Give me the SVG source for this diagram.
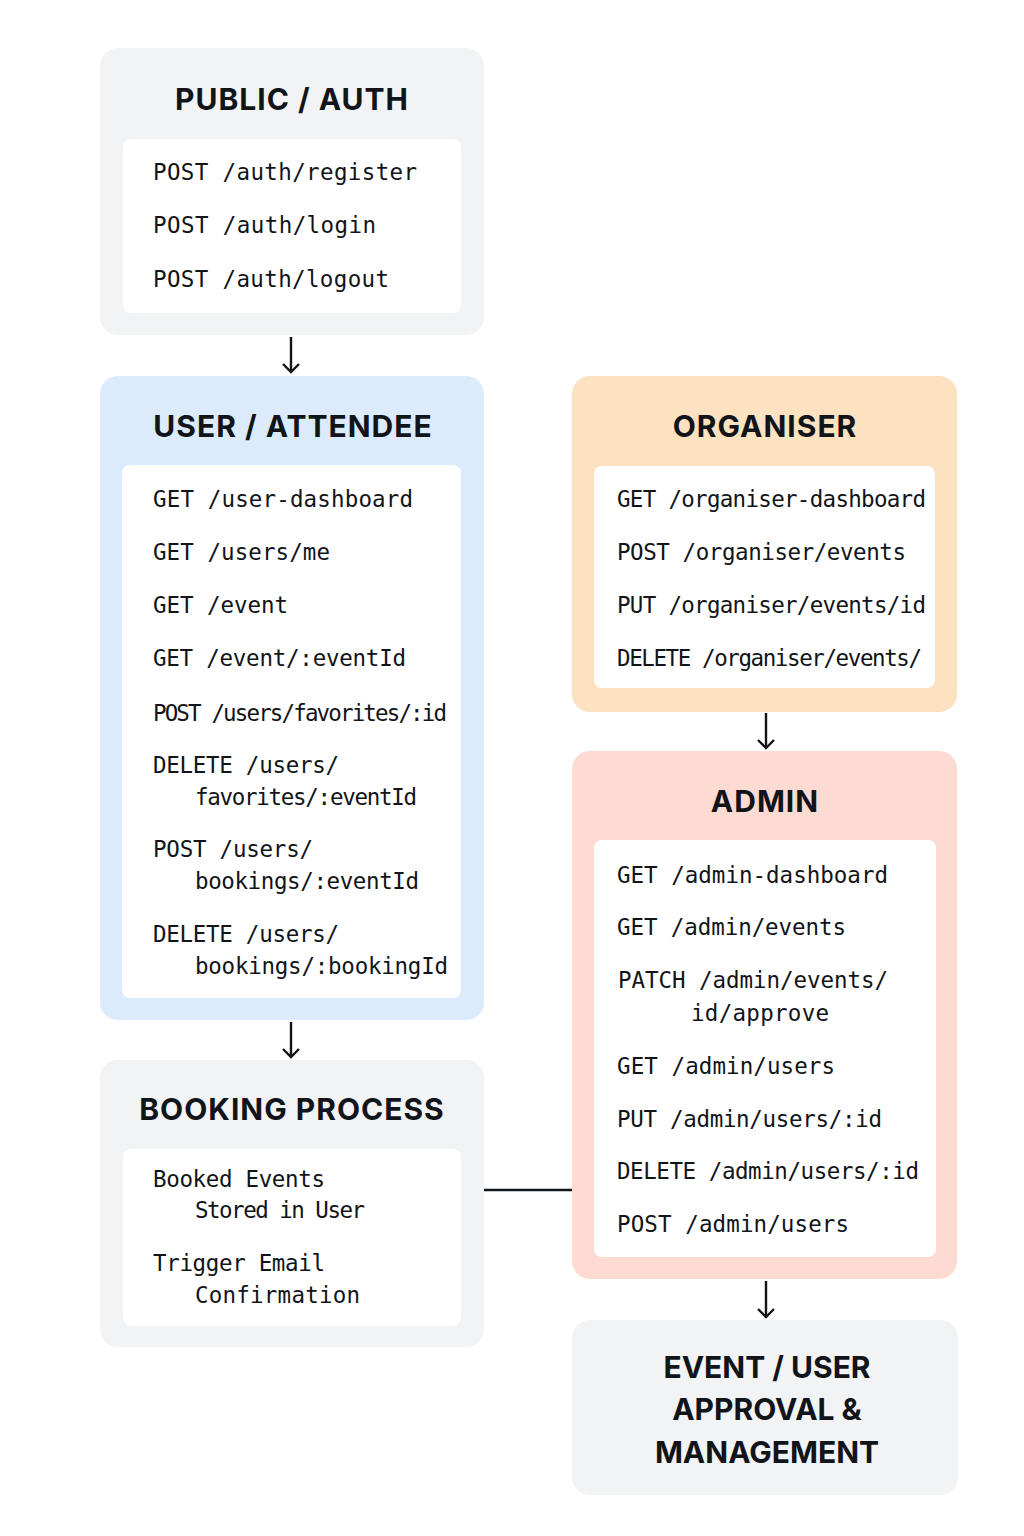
<svg xmlns="http://www.w3.org/2000/svg" width="1024" height="1536" viewBox="0 0 1024 1536">
<defs>
<marker id="arr" viewBox="0 0 20 20" refX="18" refY="10" markerWidth="20" markerHeight="20" markerUnits="userSpaceOnUse" orient="auto">
<path d="M10,2 L18,10 L10,18" fill="none" stroke="#111418" stroke-width="2.4" stroke-linejoin="miter"/>
</marker>
</defs>
<style>
.gray{fill:#f2f3f5}
.blue{fill:#dcebfb}
.orange{fill:#fde2c2}
.pink{fill:#fddbd3}
.inner{fill:#ffffff}
.title{font-family:Inter,"Liberation Sans",sans-serif;font-weight:700;font-size:30px;letter-spacing:1px;fill:#111418;text-anchor:middle}
.title2{font-family:Inter,"Liberation Sans",sans-serif;font-weight:700;font-size:30px;fill:#111418;text-anchor:middle}
.mono{font-family:"DejaVu Sans Mono","Liberation Mono",monospace;font-size:22.5px;fill:#111418}
.conn{stroke:#111418;stroke-width:2.4;fill:none}
</style>
<rect width="1024" height="1536" fill="#ffffff"/>

<g id="public-auth">
<rect class="gray" x="100" y="48" width="384" height="287" rx="18"/>
<rect class="inner" x="123" y="139" width="338" height="174" rx="8"/>
<text class="title" x="292" y="110">PUBLIC / AUTH</text>
<text class="mono" x="153" y="180" textLength="264">POST /auth/register</text>
<text class="mono" x="153" y="233" textLength="223">POST /auth/login</text>
<text class="mono" x="153" y="287" textLength="236">POST /auth/logout</text>
</g>

<g id="user-attendee">
<rect class="blue" x="100" y="376" width="384" height="644" rx="18"/>
<rect class="inner" x="122" y="465" width="339" height="533" rx="8"/>
<text class="title" x="293" y="437">USER / ATTENDEE</text>
<text class="mono" x="153" y="507" textLength="260">GET /user-dashboard</text>
<text class="mono" x="153" y="560" textLength="177">GET /users/me</text>
<text class="mono" x="153" y="613" textLength="135">GET /event</text>
<text class="mono" x="153" y="666" textLength="253">GET /event/:eventId</text>
<text class="mono" x="153" y="721" textLength="294">POST /users/favorites/:id</text>
<text class="mono" x="153" y="773" textLength="186">DELETE /users/</text>
<text class="mono" x="195" y="805" textLength="222">favorites/:eventId</text>
<text class="mono" x="153" y="857" textLength="160">POST /users/</text>
<text class="mono" x="195" y="889" textLength="224">bookings/:eventId</text>
<text class="mono" x="153" y="942" textLength="186">DELETE /users/</text>
<text class="mono" x="195" y="974" textLength="253">bookings/:bookingId</text>
</g>

<g id="booking-process">
<rect class="gray" x="100" y="1060" width="384" height="287" rx="18"/>
<rect class="inner" x="123" y="1149" width="338" height="177" rx="8"/>
<text class="title" x="292" y="1120">BOOKING PROCESS</text>
<text class="mono" x="153" y="1187" textLength="172">Booked Events</text>
<text class="mono" x="195" y="1218" textLength="170">Stored in User</text>
<text class="mono" x="153" y="1271" textLength="172">Trigger Email</text>
<text class="mono" x="195" y="1303" textLength="165">Confirmation</text>
</g>

<g id="organiser">
<rect class="orange" x="572" y="376" width="385" height="336" rx="18"/>
<rect class="inner" x="594" y="466" width="341" height="222" rx="8"/>
<text class="title" x="765" y="437">ORGANISER</text>
<text class="mono" x="617" y="507" textLength="309">GET /organiser-dashboard</text>
<text class="mono" x="617" y="560" textLength="289">POST /organiser/events</text>
<text class="mono" x="617" y="613" textLength="309">PUT /organiser/events/id</text>
<text class="mono" x="617" y="666" textLength="305">DELETE /organiser/events/</text>
</g>

<g id="admin">
<rect class="pink" x="572" y="751" width="385" height="528" rx="18"/>
<rect class="inner" x="594" y="840" width="342" height="417" rx="8"/>
<text class="title" x="765" y="812">ADMIN</text>
<text class="mono" x="617" y="883" textLength="271">GET /admin-dashboard</text>
<text class="mono" x="617" y="935" textLength="229">GET /admin/events</text>
<text class="mono" x="618" y="988" textLength="270">PATCH /admin/events/</text>
<text class="mono" x="691" y="1021" textLength="138">id/approve</text>
<text class="mono" x="617" y="1074" textLength="218">GET /admin/users</text>
<text class="mono" x="617" y="1127" textLength="265">PUT /admin/users/:id</text>
<text class="mono" x="617" y="1179" textLength="302">DELETE /admin/users/:id</text>
<text class="mono" x="617" y="1232" textLength="232">POST /admin/users</text>
</g>

<g id="event-user-approval">
<rect class="gray" x="572" y="1320" width="386" height="175" rx="18"/>
<text class="title2" x="767" y="1378">EVENT / USER</text>
<text class="title2" x="767" y="1420">APPROVAL &amp;</text>
<text class="title2" x="767" y="1463">MANAGEMENT</text>
</g>

<g id="connectors">
<line class="conn" x1="291" y1="337" x2="291" y2="372" marker-end="url(#arr)"/>
<line class="conn" x1="291" y1="1022" x2="291" y2="1057" marker-end="url(#arr)"/>
<line class="conn" x1="766" y1="713" x2="766" y2="748" marker-end="url(#arr)"/>
<line class="conn" x1="766" y1="1281" x2="766" y2="1317" marker-end="url(#arr)"/>
<line class="conn" x1="484" y1="1190" x2="572" y2="1190"/>
</g>
</svg>
